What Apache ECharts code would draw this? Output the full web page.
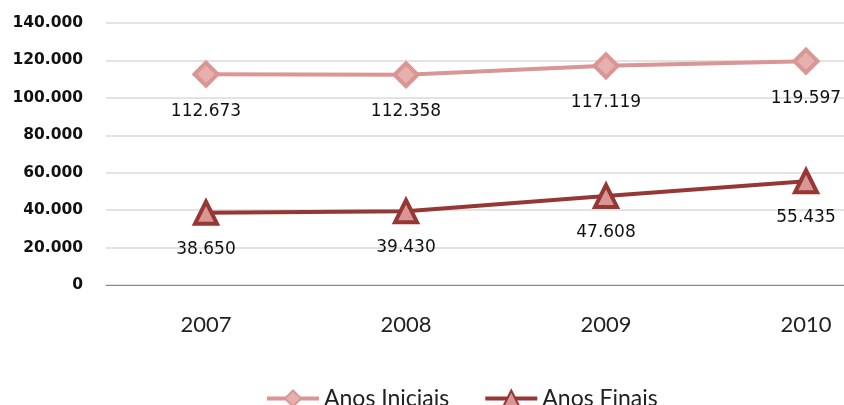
<!DOCTYPE html>
<html>
<head>
<meta charset="utf-8">
<script src="https://cdn.jsdelivr.net/npm/echarts@6/dist/echarts.min.js"></script>
<style>
  html, body { margin: 0; padding: 0; background: #ffffff; overflow: hidden; }
  /* the plot area continues past the visible right edge */
  #chart { width: 906px; height: 405px; }
</style>
</head>
<body>
<div id="chart"></div>
<script>
// Matrículas por ano
const years = ['2007', '2008', '2009', '2010'];
const anosIniciais = [112673, 112358, 117119, 119597];
const anosFinais = [38650, 39430, 47608, 55435];
const seriesNames = ['Anos Iniciais', 'Anos Finais'];

// 112673 -> "112.673"
function fmt(v) {
  return String(Math.round(v)).replace(/\B(?=(\d{3})+(?!\d))/g, '.');
}

const chart = echarts.init(document.getElementById('chart'), null, { renderer: 'canvas' });

const labelStyle = {
  show: true,
  position: 'bottom',
  distance: 15,
  color: '#111',
  fontFamily: 'DejaVu Sans',
  fontSize: 17,
  formatter: p => fmt(p.value)
};

chart.setOption({
  backgroundColor: '#ffffff',
  animation: false,
  grid: { left: 106, right: 0, top: 23, height: 262, containLabel: false },
  legend: {
    data: seriesNames,
    top: 382,
    left: 260,
    itemWidth: 52,
    itemHeight: 20,
    itemGap: 34,
    lineStyle: { width: 4 },
    textStyle: { fontFamily: 'Lato', fontSize: 23, color: '#222' }
  },
  xAxis: {
    type: 'category',
    data: years,
    boundaryGap: true,
    axisLine: { lineStyle: { color: '#888', width: 1 } },
    axisTick: { show: false },
    axisLabel: { color: '#222', fontFamily: 'Lato', fontSize: 22, margin: 29 }
  },
  yAxis: {
    type: 'value',
    min: 0,
    max: 140000,
    interval: 20000,
    axisLine: { show: false },
    axisTick: { show: false },
    splitLine: { lineStyle: { color: '#dadada', width: 1.5 } },
    axisLabel: {
      color: '#111',
      fontFamily: 'DejaVu Sans',
      fontWeight: 'bold',
      fontSize: 15.5,
      margin: 23,
      formatter: v => fmt(v)
    }
  },
  series: [
    {
      name: seriesNames[0],
      type: 'line',
      data: anosIniciais,
      symbol: 'diamond',
      symbolSize: 23,
      lineStyle: { color: '#d99694', width: 4 },
      itemStyle: { color: '#e6b0af', borderColor: '#d99694', borderWidth: 4 },
      label: labelStyle
    },
    {
      name: seriesNames[1],
      type: 'line',
      data: anosFinais,
      symbol: 'triangle',
      symbolSize: 22,
      lineStyle: { color: '#953735', width: 4 },
      itemStyle: { color: '#d99694', borderColor: '#953735', borderWidth: 4 },
      label: labelStyle
    }
  ]
});
</script>
</body>
</html>
